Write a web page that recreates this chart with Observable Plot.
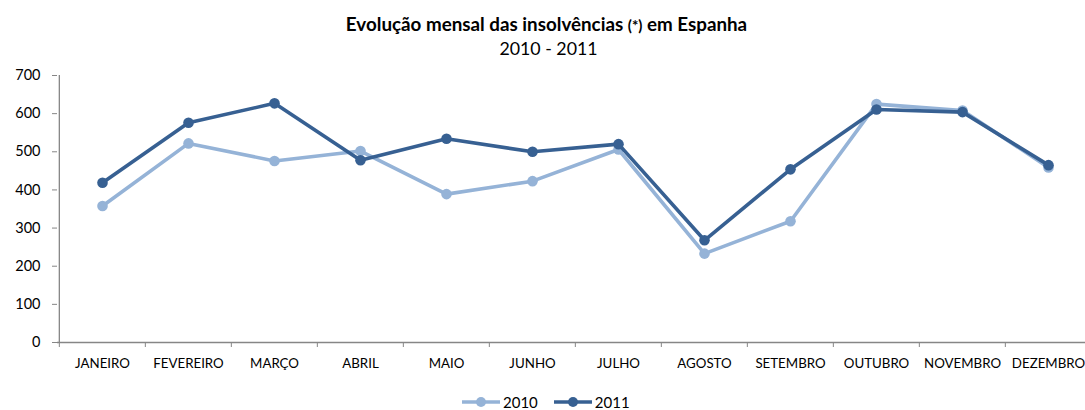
<!DOCTYPE html>
<html>
<head>
<meta charset="utf-8">
<script src="https://cdn.jsdelivr.net/npm/d3@7"></script>
<script src="https://cdn.jsdelivr.net/npm/@observablehq/plot@0.6"></script>
<style>
  html, body { margin: 0; padding: 0; background: #fff; }
  #wrap { position: relative; width: 1085px; height: 410px; overflow: hidden; font-family: Lato, "Open Sans", sans-serif; color: #000; }
  #title { position: absolute; left: 4px; width: 1085px; top: 13px; text-align: center; font-weight: bold; font-size: 18.8px; line-height: 22px; }
  #title .ast { font-size: 15px; }
  #subtitle { position: absolute; left: 6px; width: 1085px; top: 37px; text-align: center; font-size: 17.8px; line-height: 22px; }
  #chart { position: absolute; left: 0; top: 60px; }
  #legend { position: absolute; left: 462px; top: 393px; display: flex; align-items: center; font-size: 15px; line-height: 18px; }
  #legend .item { display: flex; align-items: center; margin-right: 16px; }
  #legend svg { display: block; margin-right: 3px; }
</style>
</head>
<body>
<div id="wrap">
  <div id="title">Evolução mensal das insolvências <span class="ast">(*)</span> em Espanha</div>
  <div id="subtitle">2010 - 2011</div>
  <div id="chart"></div>
  <div id="legend"></div>
</div>
<script>
const months = ["JANEIRO","FEVEREIRO","MARÇO","ABRIL","MAIO","JUNHO","JULHO","AGOSTO","SETEMBRO","OUTUBRO","NOVEMBRO","DEZEMBRO"];
const years = ["2010","2011"];
const values2010 = [358,522,476,502,389,423,506,233,318,625,608,459];
const values2011 = [419,576,627,478,534,500,520,268,454,611,604,465];
const yTicks = [0,100,200,300,400,500,600,700];
const colors = ["#95B3D7","#376092"];

const seriesValues = [values2010, values2011];
const data = years.flatMap((yr, s) => months.map((m, i) => ({month: m, year: yr, value: seriesValues[s][i]})));

const axisGray = "#868686";
const xRange = [57, 1093];
const step = (xRange[1] - xRange[0]) / months.length;

const marks = [
  Plot.ruleY([0], {stroke: axisGray, strokeWidth: 1.3}),
  Plot.ruleX([months[0]], {dx: -step / 2, stroke: axisGray, strokeWidth: 1.3}),
  Plot.axisX({tickSize: 5, tickFormat: () => "", dx: -step / 2, stroke: axisGray, strokeWidth: 1}),
  Plot.axisX({tickSize: 0, tickPadding: 16, fontSize: 13.3, fill: "#000"}),
  Plot.axisY({ticks: yTicks, tickSize: 5, tickPadding: 12, fontSize: 14.5, stroke: axisGray, fill: "#000", tickFormat: d => String(d)})
];
years.forEach((yr, s) => {
  const rows = data.filter(d => d.year === yr);
  marks.push(Plot.line(rows, {x: "month", y: "value", stroke: "year", strokeWidth: 3.6, strokeLinejoin: "round"}));
  marks.push(Plot.dot(rows, {x: "month", y: "value", fill: "year", r: 5.3, stroke: "none"}));
});

const chart = Plot.plot({
  width: 1085,
  height: 320,
  marginTop: 15,
  marginBottom: 38,
  marginLeft: 57,
  marginRight: 0,
  style: {fontFamily: "Lato, 'Open Sans', sans-serif", background: "transparent", overflow: "visible"},
  x: {type: "point", domain: months, range: xRange, padding: 0.5, label: null, axis: null},
  y: {domain: [0, 700], label: null, axis: null},
  color: {domain: years, range: colors},
  marks
});
document.getElementById("chart").appendChild(chart);

const legend = document.getElementById("legend");
years.forEach((yr, s) => {
  const item = document.createElement("div");
  item.className = "item";
  item.innerHTML = `<svg width="38" height="12"><line x1="0" x2="38" y1="6" y2="6" stroke="${colors[s]}" stroke-width="3.6"/><circle cx="19" cy="6" r="5" fill="${colors[s]}"/></svg><span>${yr}</span>`;
  legend.appendChild(item);
});
</script>
</body>
</html>
